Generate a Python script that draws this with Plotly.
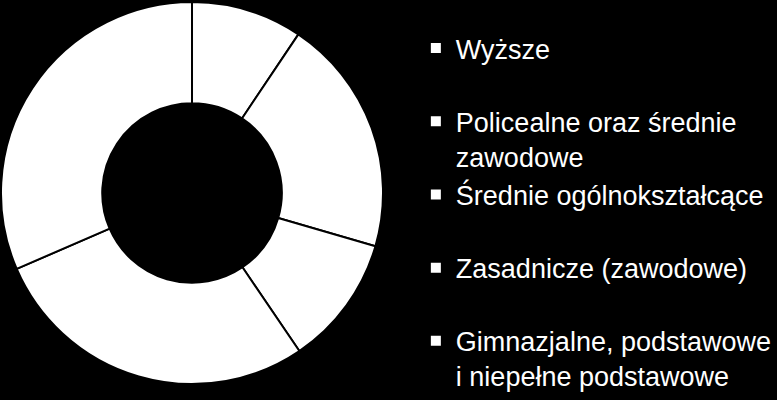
import plotly.graph_objects as go

# education level shares (%), read clockwise from 12 o'clock
labels = [
    "Wyższe",
    "Policealne oraz średnie<br>zawodowe",
    "Średnie ogólnokształcące",
    "Zasadnicze (zawodowe)",
    "Gimnazjalne, podstawowe<br>i niepełne podstawowe",
]
shares = [9.4, 20.1, 11.0, 28.0, 31.5]

# pad single-line entries to two lines so the legend rows are evenly spaced
legend_labels = [l if "<br>" in l else l + "<br> " for l in labels]

fig = go.Figure(
    go.Pie(
        labels=legend_labels,
        values=shares,
        hole=0.47,
        sort=False,
        direction="clockwise",
        rotation=0,
        textinfo="none",
        hoverinfo="percent",
        marker=dict(colors=["#ffffff"] * len(shares), line=dict(color="#000000", width=2)),
        domain=dict(x=[1 / 777, 385 / 777], y=[0.0375, 0.9975]),
    )
)

fig.update_layout(
    width=777,
    height=400,
    paper_bgcolor="#000000",
    plot_bgcolor="#000000",
    margin=dict(l=0, r=0, t=0, b=0),
    showlegend=True,
    legend=dict(
        xref="paper",
        yref="paper",
        x=418 / 777,
        y=1 - 26 / 400,
        xanchor="left",
        yanchor="top",
        valign="top",
        bgcolor="rgba(0,0,0,0)",
        font=dict(family="Arial, Liberation Sans, sans-serif", size=27, color="#ffffff"),
    ),
)

# drop the default page margin so the figure sits at the window's corner
fig.write_html(
    "out.html",
    config={"displayModeBar": False},
    post_script="document.body.style.margin='0';",
)
